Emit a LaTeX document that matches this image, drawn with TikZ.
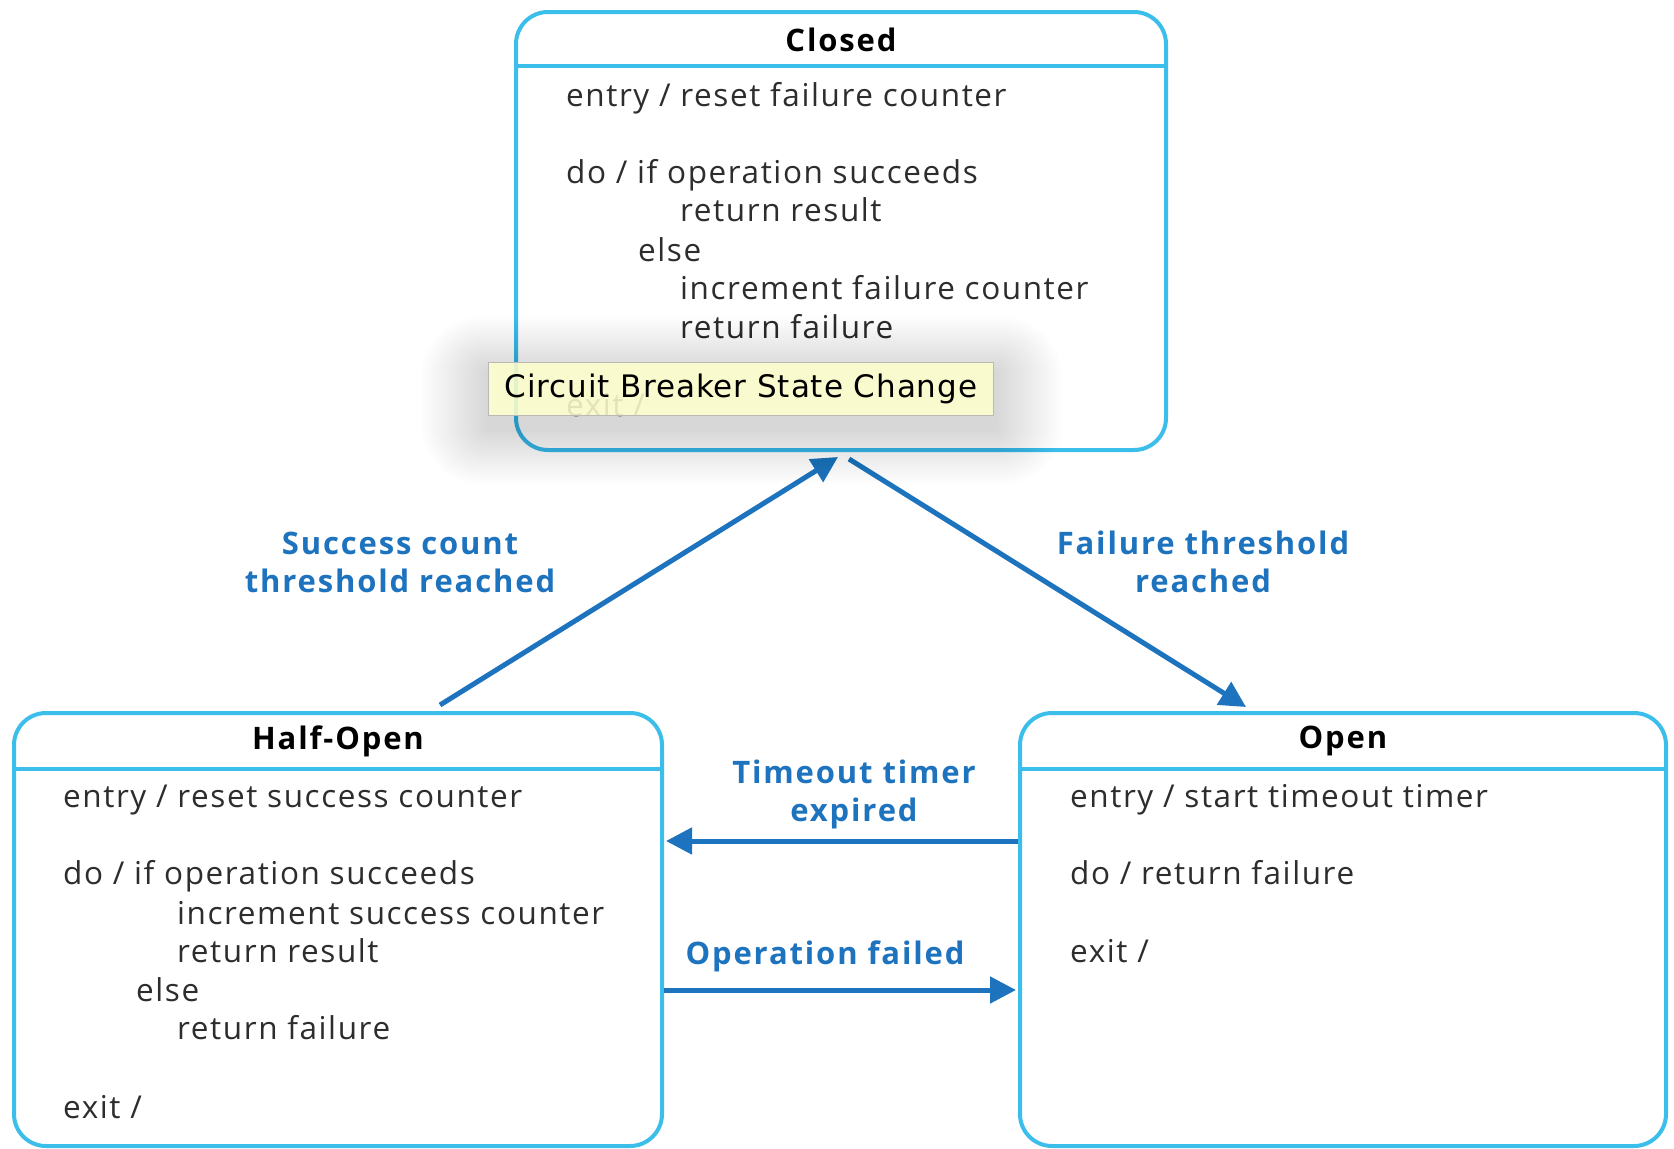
\documentclass[tikz,border=0pt]{standalone}
\usepackage{fontspec}
\setmainfont{Open Sans}
\newfontfamily\bodyfont[LetterSpace=5]{Open Sans}
\newfontfamily\boldfont[LetterSpace=6]{Open Sans Bold}
\newfontfamily\tipfont[LetterSpace=3]{DejaVu Sans}
\usetikzlibrary{arrows.meta}
\definecolor{boxcol}{RGB}{60,190,235}
\definecolor{arrcol}{RGB}{30,115,190}
\definecolor{txtcol}{RGB}{45,45,45}
\definecolor{tipfill}{RGB}{255,255,206}
\definecolor{tipborder}{RGB}{185,185,185}
\tikzset{
  statebox/.style={draw=boxcol, line width=4pt, rounded corners=32pt},
  divider/.style={draw=boxcol, line width=4pt},
  title/.style={font=\boldfont\fontsize{31}{34}\selectfont, text=black, inner sep=0pt},
  body/.style={font=\bodyfont\fontsize{31.5}{34}\selectfont, text=txtcol, inner sep=0pt, anchor=mid west},
  lbl/.style={font=\boldfont\fontsize{31}{38}\selectfont, text=arrcol, align=center, inner sep=0pt},
  trans/.style={draw=arrcol, line width=5pt, -{Triangle[length=26pt,width=26pt]}},
}
\begin{document}
\begin{tikzpicture}[x=1pt,y=-1pt]
\useasboundingbox[fill=white] (0,0) rectangle (1674,1149);

% Closed
\draw[statebox] (516,12) rectangle (1166,450);
\draw[divider] (516,66) -- (1166,66);
\node[title] (ctitle) at (841,40) {Closed};
\node[body] (c1) at (566,104) {entry / reset failure counter};
\node[body] (c2) at (566,181) {do / if operation succeeds};
\node[body] (c3) at (680,219) {return result};
\node[body] (c4) at (638,259) {else};
\node[body] (c5) at (680,297) {increment failure counter};
\node[body] (c6) at (680,336) {return failure};
\node[body] (c7) at (566,414) {exit /};
\coordinate (cin) at (838,457);
\coordinate (cout) at (849,459);

% Half-Open
\draw[statebox] (14,713) rectangle (662,1146);
\draw[divider] (14,769) -- (662,769);
\node[title] (htitle) at (338,741) {Half-Open};
\node[body] (h1) at (63,805) {entry / reset success counter};
\node[body] (h2) at (63,882) {do / if operation succeeds};
\node[body] (h3) at (177,922) {increment success counter};
\node[body] (h4) at (177,960) {return result};
\node[body] (h5) at (136,999) {else};
\node[body] (h6) at (177,1037) {return failure};
\node[body] (h7) at (63,1116) {exit /};

% Open
\draw[statebox] (1020,713) rectangle (1666,1146);
\draw[divider] (1020,769) -- (1666,769);
\node[title] (otitle) at (1343,741) {Open};
\node[body] (o1) at (1070,805) {entry / start timeout timer};
\node[body] (o2) at (1070,882) {do / return failure};
\node[body] (o3) at (1070,960) {exit /};

% transitions
\coordinate (hout) at (440,705);
\coordinate (oin) at (1246,707);
\coordinate (oleft1) at (1018,841);
\coordinate (hright1) at (666,841);
\coordinate (hright2) at (664,990);
\coordinate (oleft2) at (1016,990);
\draw[trans] (hout) -- (cin);
\draw[trans] (cout) -- (oin);
\draw[trans] (oleft1) -- (hright1);
\draw[trans] (hright2) -- (oleft2);

\node[lbl] (l1) at (400,562) {Success count\\threshold reached};
\node[lbl] (l2) at (1203,562) {Failure threshold\\reached};
\node[lbl] (l3) at (854,794) {Timeout timer\\expired};
\node[lbl] (l4) at (825,956) {Operation failed};

% tooltip soft shadow
\foreach \i in {1,...,20} {
  \fill[black, opacity=0.009, rounded corners={\i*3pt}]
    ({489-\i*3.4},{363+10-\i*2.8}) rectangle ({994+\i*3.4},{416+12+\i*2.8});
}
\node[draw=tipborder, line width=1pt, fill=tipfill, fill opacity=0.88, text opacity=1,
      minimum width=505pt, minimum height=53pt, inner sep=0pt,
      font=\tipfont\fontsize{31}{33}\selectfont, text=black] (tip) at (741,389) {Circuit Breaker State Change};
\end{tikzpicture}
\end{document}
